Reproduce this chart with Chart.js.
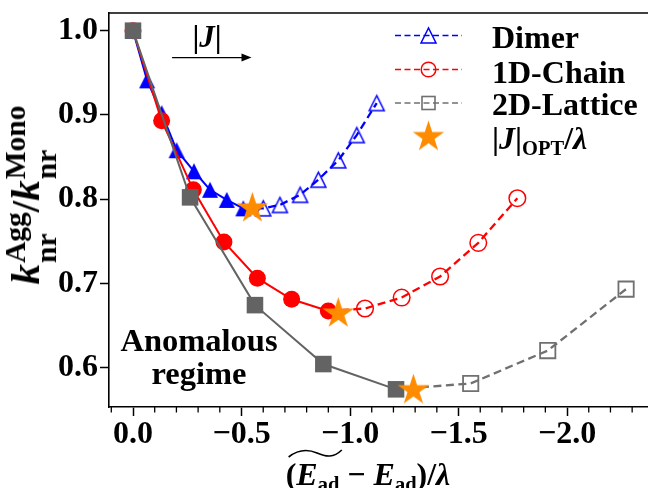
<!DOCTYPE html>
<html><head><meta charset="utf-8">
<script src="https://cdn.jsdelivr.net/npm/chart.js@4.4.1/dist/chart.umd.min.js"></script>
<style>
html,body{margin:0;padding:0;background:#fff;overflow:hidden;}
#wrap{position:relative;width:648px;height:488px;overflow:hidden;}
canvas{position:absolute;left:0;top:0;}
.t{position:absolute;font-family:"Liberation Serif","DejaVu Serif",serif;font-weight:bold;color:#000;white-space:nowrap;line-height:1;}
.t sub{font-size:0.64em;vertical-align:baseline;position:relative;top:0.28em;line-height:0;}
.ss{display:inline-flex;flex-direction:column;font-size:0.72em;line-height:1.05;vertical-align:0.48em;margin-left:1px;}
.tl{position:relative;display:inline-block;}
.tl svg{position:absolute;left:-9px;top:-9px;width:calc(100% + 12px);height:9px;overflow:visible;}
</style></head><body>
<div id="wrap">
<canvas id="c" width="648" height="488"></canvas>
<div id="ytitle" class="t" style="font-size:41px;left:31px;top:195px;transform:translate(-50%,-50%) rotate(-90deg);"><i>k</i><span class="ss"><span>Agg</span><span>nr</span></span>/<i>k</i><span class="ss"><span>Mono</span><span>nr</span></span></div>
<div id="xtitle" class="t" style="font-size:32px;left:368px;top:474px;transform:translate(-50%,-50%);">(<span class="tl"><i>E</i><sub>ad</sub><svg viewBox="0 0 60 9" preserveAspectRatio="none"><path d="M1,8 C12,0 22,0 32,4 S50,9 59,1" fill="none" stroke="#000" stroke-width="1.6" vector-effect="non-scaling-stroke"/></svg></span> − <i>E</i><sub>ad</sub>)/<i>λ</i></div>
<div id="jlabel" class="t" style="font-size:31px;left:207px;top:36px;transform:translate(-50%,-50%);">|<i>J</i>|</div>
<div id="anom" class="t" style="font-size:32.5px;line-height:33px;text-align:center;left:199px;top:357px;transform:translate(-50%,-50%);">Anomalous<br>regime</div>
<div class="t" style="font-size:32px;left:492px;top:37px;transform:translateY(-50%);">Dimer</div>
<div class="t" style="font-size:32px;left:492px;top:72px;transform:translateY(-50%);">1D-Chain</div>
<div class="t" style="font-size:32px;left:492px;top:104px;transform:translateY(-50%);">2D-Lattice</div>
<div class="t" style="font-size:32px;left:492px;top:138px;transform:translateY(-50%);">|<i>J</i>|<sub>OPT</sub>/<i>λ</i></div>
</div>
<script>
// ---------------- data ----------------
const dimerSolidX   = [0.0, -0.065, -0.132, -0.201, -0.281, -0.355, -0.432, -0.508];
const dimerSolidY   = [1.0, 0.941, 0.902, 0.858, 0.833, 0.811, 0.799, 0.789];
const dimerDashX    = [-0.600, -0.677, -0.770, -0.854, -0.946, -1.031, -1.123];
const dimerDashY    = [0.789, 0.793, 0.805, 0.823, 0.846, 0.876, 0.914];

const chainSolidX   = [0.0, -0.132, -0.278, -0.419, -0.573, -0.731, -0.900];
const chainSolidY   = [1.0, 0.893, 0.811, 0.749, 0.706, 0.681, 0.667];
const chainDashX    = [-1.069, -1.238, -1.415, -1.591, -1.771];
const chainDashY    = [0.670, 0.683, 0.708, 0.748, 0.801];

const latticeSolidX = [0.0, -0.263, -0.562, -0.877, -1.212];
const latticeSolidY = [1.0, 0.802, 0.674, 0.604, 0.574];
const latticeDashX  = [-1.556, -1.911, -2.272];
const latticeDashY  = [0.581, 0.620, 0.693];

const optX = [-0.550, -0.946, -1.292];
const optY = [0.789, 0.664, 0.573];

const seriesNames = ['Dimer', '1D-Chain', '2D-Lattice'];
const xMajorTicks = [0.0, -0.5, -1.0, -1.5, -2.0];
const xMinorTicks = [0.1, -0.1, -0.2, -0.3, -0.4, -0.6, -0.7, -0.8, -0.9, -1.1, -1.2, -1.3, -1.4, -1.6, -1.7, -1.8, -1.9, -2.1, -2.2, -2.3];
const yTicks = [0.6, 0.7, 0.8, 0.9, 1.0];
const xRange = [-2.373, 0.1106];
const yRange = [0.553, 1.021];
const arrowFrom = [-0.18, 0.968];
const arrowTo = [-0.546, 0.968];

// ---------------- styling ----------------
const BLUE = '#0000ff', RED = '#ff0000', GRAY = '#636363', GRAY_OPEN = '#707070', ORANGE = '#ff8c00';
const FONT = "'Liberation Serif', 'DejaVu Serif', serif";

function triCanvas(size, color, filled, lw) {
  const pad = Math.ceil(lw) + 1;
  const c = document.createElement('canvas');
  c.width = c.height = Math.ceil(size + 2 * pad);
  const g = c.getContext('2d');
  const cx = c.width / 2, cy = c.height / 2, h = size / 2;
  g.beginPath(); g.moveTo(cx, cy - h); g.lineTo(cx - h, cy + h); g.lineTo(cx + h, cy + h); g.closePath();
  if (filled) { g.fillStyle = color; g.fill(); } else { g.strokeStyle = color; g.lineWidth = lw; g.stroke(); }
  return c;
}
function starCanvas(R, color) {
  const s = Math.ceil(2 * R + 4);
  const c = document.createElement('canvas'); c.width = c.height = s;
  const g = c.getContext('2d'); const cx = s / 2, cy = s / 2, r = R * 0.382;
  g.beginPath();
  for (let i = 0; i < 10; i++) { const a = -Math.PI / 2 + i * Math.PI / 5; const rr = i % 2 ? r : R; g.lineTo(cx + rr * Math.cos(a), cy + rr * Math.sin(a)); }
  g.closePath(); g.fillStyle = color; g.fill();
  return c;
}
const triFilled = triCanvas(16, BLUE, true, 0);
const triOpen = triCanvas(15, BLUE, false, 1.5);
const triLegend = triCanvas(15, BLUE, false, 1.5);
const starImg = starCanvas(16.5, ORANGE);

const pts = (xs, ys) => xs.map((x, i) => ({ x: x, y: ys[i] }));
const hideFirst = r => (ctx => ctx.dataIndex === 0 ? 0 : r);

const datasets = [
  { label: 'opt', data: pts(optX, optY), showLine: false, pointStyle: starImg, pointRadius: 10, order: 0 },
  { label: seriesNames[2] + ' solid', data: pts(latticeSolidX, latticeSolidY), showLine: true, borderColor: GRAY, borderWidth: 2,
    pointStyle: 'rect', pointRadius: 11.7, pointBackgroundColor: GRAY, pointBorderColor: GRAY, pointBorderWidth: 0, order: 1 },
  { label: seriesNames[2], data: pts([latticeSolidX[latticeSolidX.length - 1]].concat(latticeDashX), [latticeSolidY[latticeSolidY.length - 1]].concat(latticeDashY)),
    showLine: true, borderColor: GRAY_OPEN, borderWidth: 2.3, borderDash: [8, 4.5],
    pointStyle: 'rect', pointRadius: hideFirst(10.8), pointBackgroundColor: 'rgba(0,0,0,0)', pointBorderColor: GRAY_OPEN, pointBorderWidth: 1.8, order: 2 },
  { label: seriesNames[1] + ' solid', data: pts(chainSolidX, chainSolidY), showLine: true, borderColor: RED, borderWidth: 2,
    pointStyle: 'circle', pointRadius: 8.5, pointBackgroundColor: RED, pointBorderColor: RED, pointBorderWidth: 0, order: 3 },
  { label: seriesNames[1], data: pts([chainSolidX[chainSolidX.length - 1]].concat(chainDashX), [chainSolidY[chainSolidY.length - 1]].concat(chainDashY)),
    showLine: true, borderColor: RED, borderWidth: 2.3, borderDash: [8, 4.5],
    pointStyle: 'circle', pointRadius: hideFirst(8.3), pointBackgroundColor: 'rgba(0,0,0,0)', pointBorderColor: RED, pointBorderWidth: 1.5, order: 4 },
  { label: seriesNames[0] + ' solid', data: pts(dimerSolidX, dimerSolidY), showLine: true, borderColor: BLUE, borderWidth: 2,
    pointStyle: triFilled, pointRadius: 8, order: 5 },
  { label: seriesNames[0], data: pts([dimerSolidX[dimerSolidX.length - 1]].concat(dimerDashX), [dimerSolidY[dimerSolidY.length - 1]].concat(dimerDashY)),
    showLine: true, borderColor: BLUE, borderWidth: 2.3, borderDash: [8, 4.5],
    pointStyle: triOpen, pointRadius: hideFirst(8), order: 6 }
];
datasets.forEach(d => { d.tension = 0; d.fill = false; d.pointHoverRadius = d.pointRadius; });

const decor = {
  id: 'decor',
  afterDraw(chart) {
    const g = chart.ctx, a = chart.chartArea, xs = chart.scales.x, ys = chart.scales.y;
    g.save();
    g.setLineDash([]);
    // top spine
    g.strokeStyle = '#000'; g.lineWidth = 1.6;
    g.beginPath(); g.moveTo(a.left - 0.8, a.top); g.lineTo(a.right + 2, a.top); g.stroke();
    // minor ticks on x
    g.lineWidth = 1.3;
    xMinorTicks.forEach(v => { const p = xs.getPixelForValue(v); g.beginPath(); g.moveTo(p, a.bottom); g.lineTo(p, a.bottom + 5.5); g.stroke(); });
    // |J| arrow
    const x0 = xs.getPixelForValue(arrowFrom[0]), y0 = ys.getPixelForValue(arrowFrom[1]);
    const x1 = xs.getPixelForValue(arrowTo[0]), y1 = ys.getPixelForValue(arrowTo[1]);
    g.lineWidth = 1.2; g.beginPath(); g.moveTo(x0, y0); g.lineTo(x1 - 8, y1); g.stroke();
    g.fillStyle = '#000'; g.beginPath(); g.moveTo(x1, y1); g.lineTo(x1 - 10, y1 - 4); g.lineTo(x1 - 10, y1 + 4); g.closePath(); g.fill();
    // legend handles
    const rows = [
      { y: 35.5, color: BLUE, kind: 'tri' },
      { y: 69.5, color: RED, kind: 'circ' },
      { y: 103, color: GRAY_OPEN, kind: 'sq' },
      { y: 137, kind: 'star' }
    ];
    const lx0 = 395, lx1 = 462, mx = 428.5;
    rows.forEach(r => {
      if (r.kind === 'star') { g.drawImage(starImg, mx - starImg.width / 2, r.y - starImg.height / 2); return; }
      g.setLineDash([6, 3.5]); g.strokeStyle = r.color; g.lineWidth = 1.6;
      g.beginPath(); g.moveTo(lx0, r.y); g.lineTo(lx1, r.y); g.stroke(); g.setLineDash([]);
      if (r.kind === 'tri') g.drawImage(triLegend, mx - triLegend.width / 2, r.y - triLegend.height / 2);
      if (r.kind === 'circ') { g.lineWidth = 1.5; g.beginPath(); g.arc(mx, r.y, 7.3, 0, Math.PI * 2); g.stroke(); }
      if (r.kind === 'sq') { g.lineWidth = 1.6; g.strokeRect(mx - 6.5, r.y - 6.5, 13, 13); }
    });
    g.restore();
  }
};

new Chart(document.getElementById('c'), {
  type: 'scatter',
  data: { datasets: datasets },
  plugins: [decor],
  options: {
    responsive: false, animation: false, events: [],
    layout: { autoPadding: false, padding: { top: 13, right: 0, bottom: 0, left: 0 } },
    plugins: { legend: { display: false }, tooltip: { enabled: false } },
    scales: {
      x: {
        type: 'linear', reverse: true, min: xRange[0], max: xRange[1],
        afterBuildTicks: s => { s.ticks = xMajorTicks.map(v => ({ value: v })); },
        afterFit: s => { s.height = 81; s.paddingLeft = 0; s.paddingRight = 0; s.paddingTop = 0; s.paddingBottom = 0; },
        border: { display: true, color: '#000', width: 1.6 },
        grid: { display: true, drawOnChartArea: false, drawTicks: true, tickLength: 9, tickColor: '#000', tickWidth: 1.5 },
        ticks: { color: '#000', padding: 0, maxRotation: 0, autoSkip: false, font: { family: FONT, size: 32, weight: 'bold' },
          callback: v => v === 0 ? '0.0' : (v < 0 ? '\u2212' : '') + Math.abs(v).toFixed(1) }
      },
      y: {
        type: 'linear', min: yRange[0], max: yRange[1],
        afterBuildTicks: s => { s.ticks = yTicks.map(v => ({ value: v })); },
        afterFit: s => { s.width = 109; s.paddingLeft = 0; s.paddingRight = 0; s.paddingTop = 0; s.paddingBottom = 0; },
        border: { display: true, color: '#000', width: 1.6 },
        grid: { display: true, drawOnChartArea: false, drawTicks: true, tickLength: 9, tickColor: '#000', tickWidth: 1.5 },
        ticks: { color: '#000', padding: 2, font: { family: FONT, size: 32, weight: 'bold' }, callback: v => v.toFixed(1) }
      }
    }
  }
});
</script>
</body></html>
